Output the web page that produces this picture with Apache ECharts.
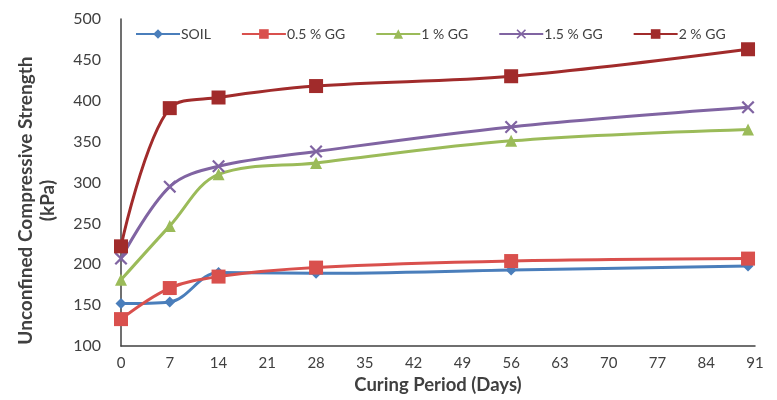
<!DOCTYPE html>
<html><head><meta charset="utf-8">
<script src="https://cdn.jsdelivr.net/npm/echarts@6/dist/echarts.min.js"></script>
<style>html,body{margin:0;padding:0;background:#fff}#c{width:777px;height:400px}</style>
</head><body><div id="c"></div>
<script>
var days = [0, 7, 14, 28, 56, 90];
var seriesNames = ['SOIL', '0.5 % GG', '1 % GG', '1.5 % GG', '2 % GG'];
var soil = [152, 154, 190, 189, 193, 198];
var gg05 = [133, 171, 185, 196, 204, 207];
var gg1 = [181, 247, 310, 324, 351, 365];
var gg15 = [207, 295, 320, 338, 368, 392];
var gg2 = [222, 391, 404, 418, 430, 463];
var allValues = [soil, gg05, gg1, gg15, gg2];

var colors = ['#4A7EBB', '#D9504D', '#9BBB59', '#8064A2', '#A12B2B'];
var xPath = 'path://M0,1.2L1.2,0L5,3.8L8.8,0L10,1.2L6.2,5L10,8.8L8.8,10L5,6.2L1.2,10L0,8.8L3.8,5Z';
var symbols = ['diamond', 'rect', 'triangle', xPath, 'rect'];
var sizes = [11, 14, 12, 13, 14];
var font = "Lato, 'Liberation Sans', sans-serif";

var series = seriesNames.map(function (n, i) {
  return {
    name: n, type: 'line', smooth: 0.35,
    data: days.map(function (d, j) { return [d, allValues[i][j]]; }),
    symbol: symbols[i], symbolSize: sizes[i],
    lineStyle: { width: 3, color: colors[i] },
    itemStyle: { color: colors[i] },
    z: 2 + i
  };
});

var chart = echarts.init(document.getElementById('c'));
chart.setOption({
  animation: false,
  color: colors,
  textStyle: { fontFamily: font },
  legend: {
    top: 22, left: 130, itemWidth: 44, itemHeight: 12, itemGap: 30,
    textStyle: { fontFamily: font, fontSize: 14, color: '#404040', padding: [0, 0, 0, -4] },
    data: seriesNames
  },
  grid: { left: 121, right: 22, top: 19, bottom: 52 },
  xAxis: {
    type: 'value', min: 0, max: 91, interval: 7,
    name: 'Curing Period (Days)', nameLocation: 'middle', nameGap: 27,
    nameTextStyle: { fontFamily: font, fontSize: 18.5, fontWeight: 'bold', color: '#404040' },
    axisLine: { lineStyle: { color: '#404040', width: 1.5 } },
    axisTick: { show: false },
    splitLine: { show: false },
    axisLabel: { fontSize: 15, color: '#404040', margin: 10 }
  },
  yAxis: {
    type: 'value', min: 100, max: 500, interval: 50,
    name: 'Unconfined Compressive Strength\n(kPa)', nameLocation: 'middle', nameGap: 62,
    nameTextStyle: { fontFamily: font, fontSize: 19, fontWeight: 'bold', color: '#404040', lineHeight: 22, padding: [0, 36, 0, 0] },
    axisLine: { show: true, lineStyle: { color: '#404040', width: 1.5 } },
    axisTick: { show: false },
    splitLine: { show: false },
    axisLabel: { fontSize: 16, color: '#404040', margin: 20 }
  },
  series: series
});
</script></body></html>
